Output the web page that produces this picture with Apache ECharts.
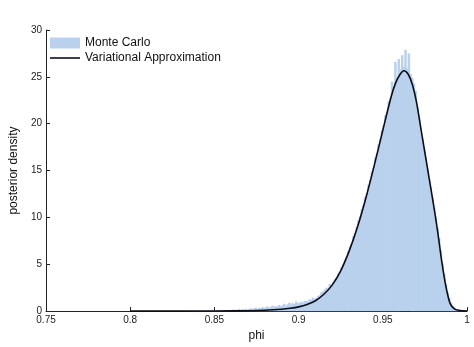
<!DOCTYPE html>
<html>
<head>
<meta charset="utf-8">
<script src="https://cdn.jsdelivr.net/npm/echarts@6/dist/echarts.min.js"></script>
<style>
  html, body { margin: 0; padding: 0; background: #fff; }
  #chart { width: 474px; height: 347px; }
</style>
</head>
<body>
<div id="chart"></div>
<script>
// Histogram of Monte Carlo draws of phi: bins of width 0.001 starting at 0.830
const histStart = 0.830;
const binWidth = 0.001;
const histValues = [
  // 0.830 - 0.849
  0, 0.02, 0, 0.03, 0, 0.02, 0.04, 0, 0.03, 0.02,
  0.05, 0, 0.03, 0.06, 0.02, 0.04, 0.07, 0.03, 0.05, 0.08,
  // 0.850 - 0.869
  0.04, 0.06, 0.1, 0.03, 0.07, 0.12, 0.05, 0.09, 0.06, 0.11,
  0.1, 0.18, 0.08, 0.15, 0.22, 0.12, 0.2, 0.14, 0.26, 0.17,
  // 0.870 - 0.889
  0.24, 0.3, 0.18, 0.28, 0.36, 0.22, 0.33, 0.27, 0.42, 0.3,
  0.38, 0.5, 0.34, 0.46, 0.58, 0.4, 0.55, 0.48, 0.66, 0.52,
  // 0.890 - 0.909
  0.6, 0.78, 0.55, 0.72, 0.9, 0.68, 0.85, 0.76, 1.02, 0.88,
  0.85, 1.0, 0.9, 1.05, 1.1, 1.0, 1.25, 1.2, 1.45, 1.3,
  // 0.910 - 0.929
  1.4, 1.6, 1.7, 2.0, 2.1, 2.3, 2.5, 2.4, 2.9, 2.8,
  3.1, 3.4, 3.6, 4.0, 4.2, 4.7, 5.0, 5.5, 5.8, 6.4,
  // 0.930 - 0.949
  6.9, 7.2, 8.0, 8.3, 9.0, 9.7, 10.1, 10.9, 11.3, 12.2,
  12.6, 13.5, 14.0, 14.9, 15.3, 16.4, 16.8, 17.8, 18.3, 19.3,
  // 0.950 - 0.969
  19.8, 20.9, 21.3, 22.4, 22.7, 24.5, 24.0, 26.6, 24.9, 26.9,
  25.8, 27.3, 26.1, 27.9, 25.9, 27.5, 25.3, 24.9, 24.3, 23.5,
  // 0.970 - 0.989
  21.8, 20.8, 19.4, 18.4, 17.3, 16.3, 15.2, 14.1, 13.2, 12.1,
  11.0, 10.0, 8.9, 7.8, 6.5, 5.1, 4.0, 2.9, 2.0, 1.4,
  // 0.990 - 0.999
  0.9, 0.6, 0.4, 0.25, 0.15, 0.1, 0.06, 0.03, 0.02, 0.01
];

// Variational approximation density
const curveX = [
  0.800, 0.820, 0.840, 0.860, 0.870, 0.880, 0.890, 0.895, 0.900, 0.905,
  0.910, 0.915, 0.920, 0.925, 0.930, 0.935, 0.940, 0.945, 0.950, 0.955,
  0.9575, 0.960, 0.9625, 0.965, 0.9675, 0.970, 0.9725, 0.975, 0.9775, 0.980,
  0.9825, 0.985, 0.9875, 0.990, 0.9925, 0.995, 0.9975, 1.000
];
const curveY = [
  0.0, 0.0, 0.005, 0.02, 0.04, 0.09, 0.2, 0.3, 0.45, 0.7,
  1.1, 1.8, 2.8, 4.3, 6.4, 9.0, 12.1, 15.6, 19.3, 22.9,
  24.3, 25.2, 25.65, 25.3, 24.2, 22.3, 19.6, 16.9, 14.2, 11.5,
  8.6, 5.3, 2.6, 0.8, 0.25, 0.08, 0.02, 0.0
];

const xTickLabels = ['0.75', '0.8', '0.85', '0.9', '0.95', '1'];
const yTickLabels = ['0', '5', '10', '15', '20', '25', '30'];

const histData = histValues.map((v, i) => [histStart + i * binWidth, histStart + (i + 1) * binWidth, v]);
const curveData = curveX.map((x, i) => [x, curveY[i]]);

const FONT = 'Liberation Sans, Arial, Helvetica, sans-serif';
const HIST_COLOR = '#b9d1ec';
const LINE_COLOR = '#0d0d1a';
const chart = echarts.init(document.getElementById('chart'), null, { renderer: 'canvas' });

chart.setOption({
  animation: false,
  backgroundColor: '#fff',
  grid: { left: 40, right: 7, top: 30, bottom: 30, containLabel: false },
  legend: {
    orient: 'vertical',
    left: 50,
    top: 37,
    padding: 0,
    itemWidth: 30,
    itemHeight: 11,
    itemGap: 3,
    symbolKeepAspect: true,
    textStyle: { fontFamily: FONT, fontSize: 12, color: '#111' },
    data: [
      { name: 'Monte Carlo', icon: 'rect' },
      { name: 'Variational Approximation', icon: 'path://M0,0L30,0L30,1.6L0,1.6Z', itemStyle: { color: LINE_COLOR } }
    ]
  },
  xAxis: {
    type: 'value',
    min: 0.75,
    max: 1,
    interval: 0.05,
    name: 'phi',
    nameLocation: 'middle',
    nameGap: 15,
    nameTextStyle: { fontFamily: FONT, fontSize: 12, color: '#111' },
    axisLine: { show: true, lineStyle: { color: '#222', width: 1 } },
    axisTick: { show: true, inside: true, length: 4, lineStyle: { color: '#222' } },
    axisLabel: {
      fontFamily: FONT, fontSize: 10, color: '#222', margin: 4,
      formatter: (v) => xTickLabels[Math.round((v - 0.75) / 0.05)]
    },
    splitLine: { show: false }
  },
  yAxis: {
    type: 'value',
    min: 0,
    max: 30,
    interval: 5,
    name: 'posterior density',
    nameLocation: 'middle',
    nameGap: 20,
    nameTextStyle: { fontFamily: FONT, fontSize: 12, color: '#111' },
    axisLine: { show: true, lineStyle: { color: '#222', width: 1 } },
    axisTick: { show: true, inside: true, length: 4, lineStyle: { color: '#222' } },
    axisLabel: {
      fontFamily: FONT, fontSize: 10, color: '#222', margin: 4,
      formatter: (v) => yTickLabels[Math.round(v / 5)]
    },
    splitLine: { show: false }
  },
  series: [
    {
      name: 'Monte Carlo',
      type: 'custom',
      itemStyle: { color: HIST_COLOR },
      encode: { x: [0, 1], y: 2 },
      data: histData,
      renderItem: function (params, api) {
        const p0 = api.coord([api.value(0), api.value(2)]);
        const p1 = api.coord([api.value(1), 0]);
        // widen each bar slightly so neighbouring bins meet without seams
        return {
          type: 'rect',
          shape: { x: p0[0] - 0.4, y: p0[1], width: (p1[0] - p0[0]) + 0.8, height: p1[1] - p0[1] },
          style: { fill: HIST_COLOR }
        };
      },
      z: 1
    },
    {
      name: 'Variational Approximation',
      type: 'line',
      data: curveData,
      smooth: 0.3,
      symbol: 'none',
      showSymbol: false,
      lineStyle: { color: LINE_COLOR, width: 1.6 },
      itemStyle: { color: LINE_COLOR },
      z: 3
    }
  ]
});
</script>
</body>
</html>
